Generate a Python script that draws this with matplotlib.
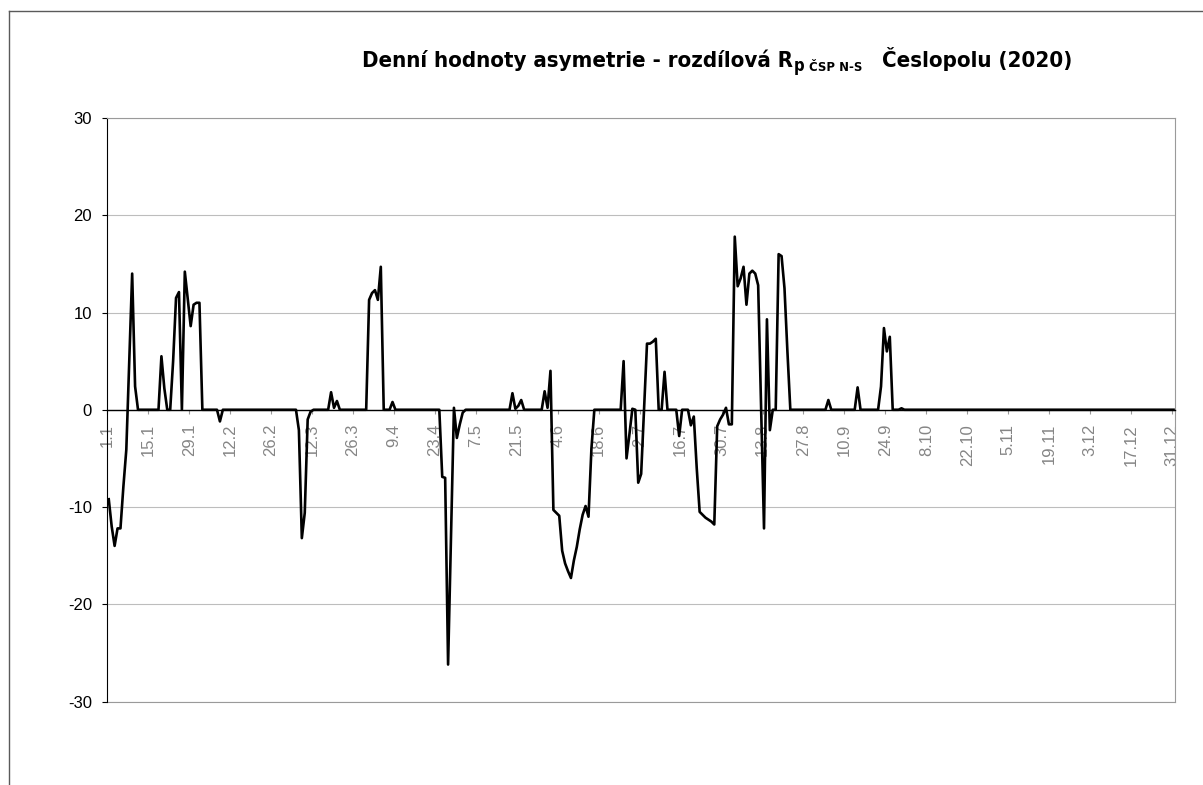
import matplotlib
matplotlib.use('Agg')
import matplotlib.pyplot as plt
from matplotlib.lines import Line2D
from matplotlib import font_manager
import numpy as np

# daily values (non-leap calendar, 365 days)
jan = [-9.2, -12.0, -14.0, -12.2, -12.2, -7.9, -4.1, 5.0, 14.0, 2.4,
       0, 0, 0, 0, 0, 0, 0, 0, 5.5, 2.2, 0, 0, 5.0, 11.5, 12.1, 0,
       14.2, 11.4, 8.6, 10.8, 11.0]
feb = [11.0, 0, 0, 0, 0, 0, 0, -1.2, 0, 0, 0, 0, 0, 0, 0, 0, 0, 0, 0, 0,
       0, 0, 0, 0, 0, 0, 0, 0]
mar = [0, 0, 0, 0, 0, 0, -2.1, -13.2, -10.6, -1.0, -0.2, 0, 0, 0, 0, 0, 0,
       1.8, 0.2, 0.9, 0, 0, 0, 0, 0, 0, 0, 0, 0, 0, 11.3]
apr = [12.0, 12.3, 11.3, 14.7, 0, 0, 0, 0.8, 0, 0, 0, 0, 0, 0, 0, 0, 0, 0,
       0, 0, 0, 0, 0, 0, -6.9, -7.0, -26.2, -13.0, 0.2, -2.9]
may = [-1.5, -0.3, 0, 0, 0, 0, 0, 0, 0, 0, 0, 0, 0, 0, 0, 0, 0, 0,
       1.7, 0.1, 0.4, 1.0, 0, 0, 0, 0, 0, 0, 0, 1.9, 0.2]
jun = [4.0, -10.3, -10.6, -10.9, -14.5, -15.8, -16.6, -17.3, -15.5, -14.1,
       -12.3, -10.8, -9.9, -11.0, -4.0, 0, 0, 0, 0, 0, 0, 0, 0, 0, 0,
       5.0, -5.0, -2.5, 0.1, 0]
jul = [-7.5, -6.6, 0, 6.8, 6.8, 7.0, 7.3, 0, 0, 3.9, 0, 0, 0, 0, -2.7, 0,
       0, 0, -1.6, -0.7, -6.0, -10.5, -10.8, -11.1, -11.3, -11.5, -11.8,
       -1.7, -1.0, -0.5, 0.2]
aug = [-1.5, -1.5, 17.8, 12.7, 13.5, 14.7, 10.8, 14.0, 14.3, 14.0, 12.8,
       0.5, -12.2, 9.3, -2.1, 0, 0, 16.0, 15.8, 12.5, 6.0, 0, 0, 0, 0, 0,
       0, 0, 0, 0, 0]
sep = [0, 0, 0, 1.0, 0, 0, 0, 0, 0, 0, 0, 0, 0, 2.3, 0, 0, 0, 0, 0, 0, 0,
       2.4, 8.4, 6.0, 7.5, 0, 0, 0, 0.15, 0]
octo = [0] * 31
nov = [0] * 30
dec = [0] * 31

tick_labels = ['1.1', '15.1', '29.1', '12.2', '26.2', '12.3', '26.3', '9.4',
               '23.4', '7.5', '21.5', '4.6', '18.6', '2.7', '16.7', '30.7',
               '13.8', '27.8', '10.9', '24.9', '8.10', '22.10', '5.11',
               '19.11', '3.12', '17.12', '31.12']

title_main = 'Denní hodnoty asymetrie - rozdílová R'
title_sub1 = 'p'
title_sub2 = 'ČSP N-S'
title_end = 'Česlopolu (2020)'

values = np.array(jan + feb + mar + apr + may + jun + jul + aug + sep + octo + nov + dec)
days = np.arange(len(values))

plt.rcParams['font.family'] = ['Liberation Sans', 'DejaVu Sans']
plt.rcParams['axes.unicode_minus'] = False

W, H = 1203, 785
fig = plt.figure(figsize=(W / 100, H / 100), dpi=100)

# outer chart frame (right and bottom edges fall outside the picture)
frame = '#5a5a5a'
fig.add_artist(Line2D([8.5 / W, 8.5 / W], [0, 1 - 10.5 / H], transform=fig.transFigure, color=frame, lw=1))
fig.add_artist(Line2D([8.5 / W, 1], [1 - 10.5 / H, 1 - 10.5 / H], transform=fig.transFigure, color=frame, lw=1))

ax = fig.add_axes([107.3 / W, 1 - 701.5 / H, (1175 - 107.3) / W, (701.5 - 118) / H])
ax.plot(days, values, color='black', lw=1.9, zorder=3)

ax.set_xlim(-0.5, len(values) - 0.5)
ax.set_ylim(-30, 30)
ax.set_yticks([30, 20, 10, 0, -10, -20, -30])
ax.yaxis.grid(True, color='#bdbdbd', lw=0.8)

ax.set_xticks(days[::14] - 0.5)
ax.set_xticklabels(tick_labels)

grey = '#9a9a9a'
ax.spines['bottom'].set_position(('data', 0))
ax.spines['bottom'].set_color('black')
ax.spines['bottom'].set_linewidth(1.0)
ax.spines['left'].set_color('black')
ax.spines['left'].set_linewidth(0.8)
ax.spines['top'].set_color(grey)
ax.spines['right'].set_color(grey)
ax.spines['top'].set_linewidth(0.8)
ax.spines['right'].set_linewidth(0.8)
ax.plot([0, 1], [0, 0], transform=ax.transAxes, color=grey, lw=0.8, clip_on=False)

ax.tick_params(axis='y', direction='out', length=3.6, width=0.8, color='black',
               labelsize=12, labelcolor='black', pad=7.5)
ax.tick_params(axis='x', direction='out', length=3.2, width=0.8, color=grey,
               labelsize=12, labelcolor='#858585', labelrotation=90, pad=7)

# title font: a narrow bold face if one is installed, else Liberation Sans bold
tprops = {'family': ['Liberation Sans', 'DejaVu Sans'], 'weight': 'bold'}
for f in font_manager.fontManager.ttflist:
    if f.weight in ('bold', 700) and ('Narrow' in f.name or 'Condensed' in f.name
                                      or f.stretch in ('condensed', 'semi-condensed')):
        tprops = {'fname': f.fname}
        break
tfont = font_manager.FontProperties(**tprops)

r = fig.canvas.get_renderer()


def put(s, x, y, size):
    fp = tfont.copy()
    fp.set_size(size)
    t = fig.text(x / W, 1 - y / H, s, fontproperties=fp, ha='left', va='baseline')
    return t, x + t.get_window_extent(renderer=r).width


def title(scale):
    parts = []
    t, x = put(title_main, 362, 67, 14 * scale)
    parts.append(t)
    t, x = put(title_sub1, x + 1, 71, 10.5 * scale)
    parts.append(t)
    t, x = put(title_sub2, x + 4, 71, 8.2 * scale)
    parts.append(t)
    t, x = put(title_end, x + 20, 67, 14 * scale)
    parts.append(t)
    return parts, x


parts, xend = title(1.0)
k = (1077 - 362 - 25) / (xend - 362 - 25)
for p in parts:
    p.remove()
title(k)

fig.savefig('out.png', dpi=100)
